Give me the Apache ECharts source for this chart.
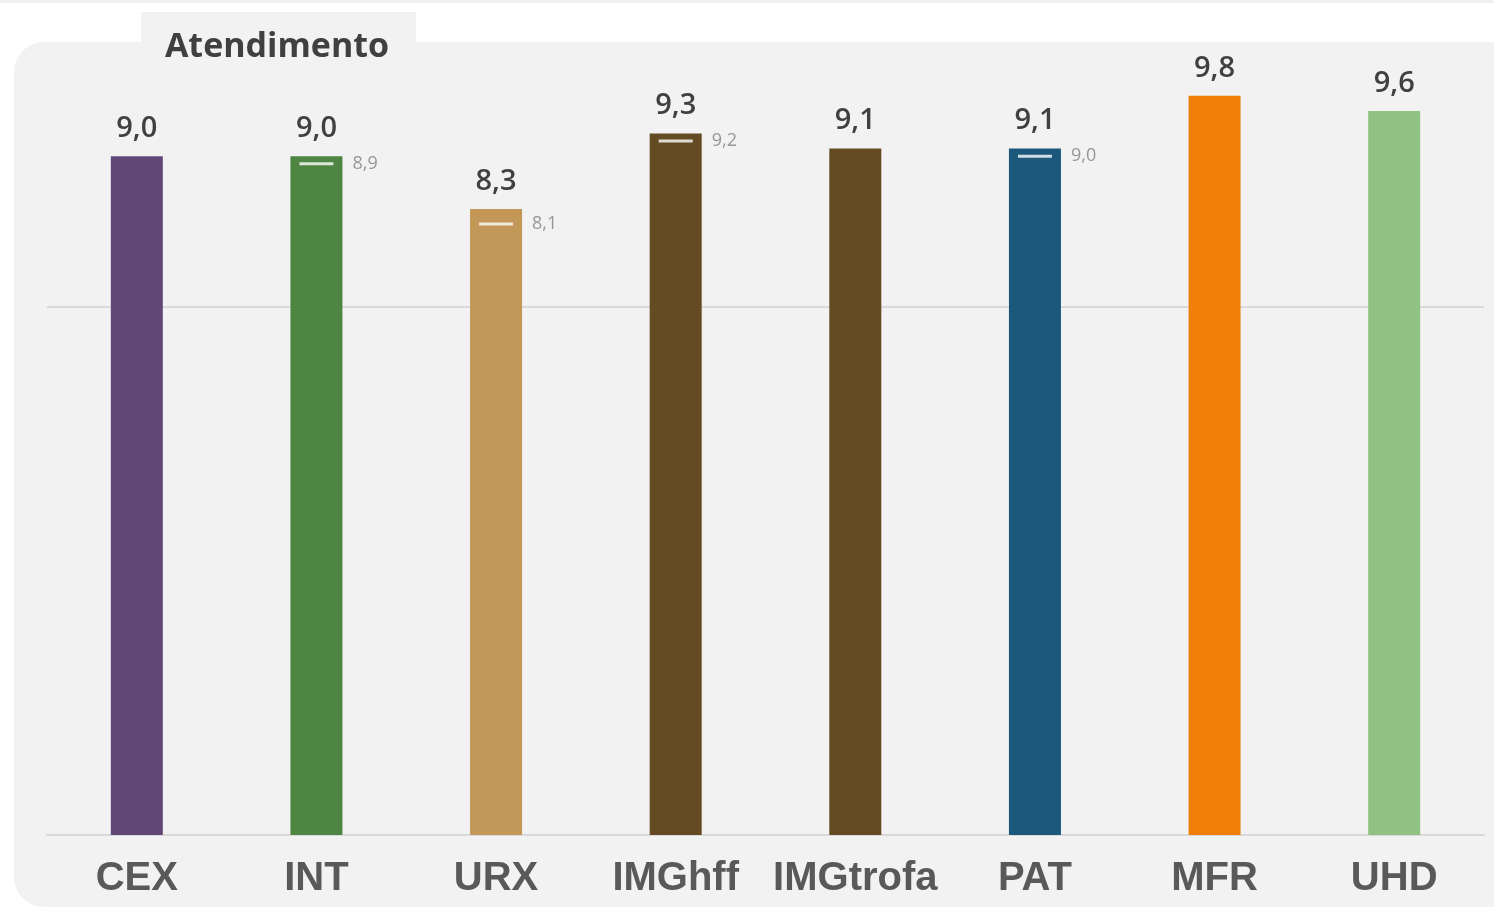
<!DOCTYPE html>
<html>
<head>
<meta charset="utf-8">
<title>Atendimento</title>
<script src="https://cdn.jsdelivr.net/npm/echarts@6/dist/echarts.min.js"></script>
<style>
  html, body { margin: 0; padding: 0; background: #ffffff; }
  #chart { width: 1494px; height: 908px; }
</style>
</head>
<body>
<div id="chart"></div>
<script>
// Units evaluated in the "Atendimento" score
const categories = ['CEX', 'INT', 'URX', 'IMGhff', 'IMGtrofa', 'PAT', 'MFR', 'UHD'];
// Current score per unit
const scores = [9.0, 9.0, 8.3, 9.3, 9.1, 9.1, 9.8, 9.6];
// Previous-period reference score (shown as a white tick inside the bar)
const references = [null, 8.9, 8.1, 9.2, null, 9.0, null, null];
// Bar colour per unit
const barColors = ['#5f4876', '#4e8542', '#c39757', '#654b24', '#654b24', '#1c587c', '#f07f09', '#8fc283'];

const fmt = v => v.toFixed(1).replace('.', ',');

const chart = echarts.init(document.getElementById('chart'), null, { renderer: 'canvas' });

chart.setOption({
  backgroundColor: '#ffffff',
  animation: false,
  graphic: [
    { type: 'rect', shape: { x: 0, y: 0, width: 1494, height: 3 }, style: { fill: '#f0f0f0' }, z: -10 },
    { type: 'rect', shape: { x: 14, y: 42, width: 1510, height: 865, r: 30 }, style: { fill: '#f2f2f2' }, z: -10 },
    { type: 'rect', shape: { x: 141, y: 12, width: 275, height: 40 }, style: { fill: '#f2f2f2' }, z: -10 }
  ],
  title: {
    text: 'Atendimento',
    left: 272,
    top: 25,
    textAlign: 'center',
    textStyle: {
      fontFamily: 'Open Sans',
      fontWeight: 'bold',
      fontSize: 34,
      color: '#404040'
    }
  },
  grid: { left: 47, right: 10, top: 43, bottom: 73, containLabel: false },
  xAxis: {
    type: 'category',
    data: categories,
    axisLine: { show: true, lineStyle: { color: '#d9d9d9', width: 2 } },
    axisTick: { show: false },
    axisLabel: {
      interval: 0,
      margin: 24,
      fontFamily: 'Liberation Sans',
      fontWeight: 'bold',
      fontSize: 40,
      color: '#595959'
    }
  },
  yAxis: {
    type: 'value',
    min: 0,
    max: 10.5,
    interval: 7,
    axisLine: { show: false },
    axisTick: { show: false },
    axisLabel: { show: false },
    splitLine: { show: true, showMaxLine: false, lineStyle: { color: '#dadada', width: 2 } }
  },
  series: [
    {
      type: 'bar',
      barWidth: 52,
      data: scores.map((v, i) => ({ value: v, itemStyle: { color: barColors[i] } })),
      label: {
        show: true,
        position: 'top',
        distance: 13,
        formatter: p => fmt(p.value),
        fontFamily: 'Open Sans',
        fontWeight: 600,
        fontSize: 29,
        color: '#404040'
      },
      z: 2
    },
    {
      type: 'scatter',
      symbol: 'rect',
      symbolSize: [34, 3],
      itemStyle: { color: '#ffffff' },
      data: references,
      label: {
        show: true,
        position: 'right',
        distance: 19,
        formatter: p => fmt(p.value[1] !== undefined ? p.value[1] : p.value),
        fontFamily: 'Open Sans',
        fontSize: 18,
        color: '#808080'
      },
      z: 3
    }
  ]
});
</script>
</body>
</html>
